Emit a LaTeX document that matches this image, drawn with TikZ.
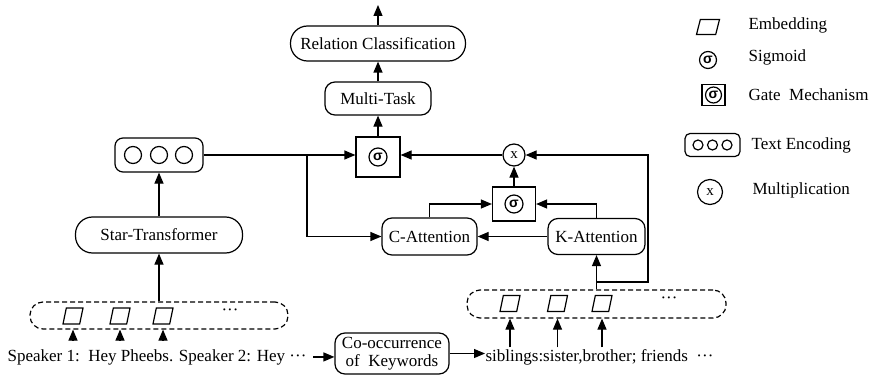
\documentclass[tikz,border=0pt]{standalone}
\usepackage{fontspec}
\setmainfont{Liberation Serif}
\newfontfamily\sigfont{Liberation Sans}
\usetikzlibrary{arrows.meta,shapes.geometric}

\begin{document}
\begin{tikzpicture}[x=1pt,y=-1pt,line width=1.2pt,
  font=\fontsize{17}{19}\selectfont,
  >={Triangle[length=11pt,width=9pt]},
  block/.style={draw,rounded corners=#1,align=center,inner sep=0pt},
  block/.default=10pt,
  gatebox/.style={draw,inner sep=0pt},
  sig/.style={draw,circle,inner sep=0pt,minimum size=18pt,font=\sigfont\bfseries\fontsize{14}{14}\selectfont},
  mulnode/.style={draw,circle,inner sep=0pt,font=\fontsize{15}{15}\selectfont},
  dot/.style={draw,circle,inner sep=0pt,minimum size=17pt},
  emb/.style={draw,trapezium,trapezium left angle=76,trapezium right angle=104,
    trapezium stretches=true,minimum width=20pt,minimum height=16pt,inner sep=1pt},
  seq/.style={draw,dash pattern=on 5pt off 3pt,rounded corners=13pt,inner sep=0pt},
  legend/.style={anchor=west,inner sep=0pt}]
\useasboundingbox (0,0) rectangle (869,385);

\node[block=17pt,minimum width=175pt,minimum height=35pt] (rc) at (378,43.5) {Relation Classification};
\coordinate (out) at (378,5);
\node[block,minimum width=106pt,minimum height=33pt] (mt) at (378,98.5) {Multi-Task};
\node[gatebox,minimum width=44pt,minimum height=40pt] (g1) at (378,157) {};
\node[sig] (s1) at (g1) {σ};
\node[mulnode,minimum size=22pt] (mul) at (514,155) {x};
\node[gatebox,minimum width=43pt,minimum height=34pt] (g2) at (514,204) {};
\node[sig] (s2) at (g2) {σ};
\node[block,minimum width=95pt,minimum height=37pt] (ca) at (429.5,236.5) {C-Attention};
\node[block,minimum width=97pt,minimum height=36pt] (ka) at (596.5,236.5) {K-Attention};

\node[block=8pt,minimum width=88pt,minimum height=34pt] (enc) at (159,155) {};
\foreach \i/\x in {1/133,2/159,3/184}
  \node[dot] (c\i) at (\x,155) {};
\node[block=17pt,minimum width=167pt,minimum height=36pt] (st) at (159,235) {Star-Transformer};

\node[seq,minimum width=258pt,minimum height=27pt] (lseq) at (159,315.5) {};
\foreach \i/\x in {1/73,2/120,3/163}
  \node[emb] (le\i) at (\x,316) {};
\node (ldots) at (230,312) {···};
\node[anchor=base west,inner xsep=0pt,inner ysep=9pt] (speech) at (7,361)
  {Speaker 1:\ \ Hey Pheebs. Speaker 2: Hey ···};
\node[block,minimum width=114pt,minimum height=41pt,font=\fontsize{17}{18}\selectfont] (co) at (392,353.5)
  {Co-occurrence\\of\ \ Keywords};

\node[seq,minimum width=259pt,minimum height=28pt] (rseq) at (596.5,304) {};
\foreach \i/\x in {1/510,2/557.5,3/602}
  \node[emb] (re\i) at (\x,303.5) {};
\node (rdots) at (669,300) {···};
\node[anchor=base west,inner xsep=0pt,inner ysep=1pt] (kw) at (485,361)
  {siblings:sister,brother; friends\ \ ···};

\draw[->] (rc) -- (out);
\draw[->] (mt) -- (rc);
\draw[->] (g1) -- (mt);
\draw[->] (enc.east) -- (enc.east -| g1.west);
\coordinate (split) at (307,155);
\draw[->] (split) |- (ca.west);
\draw[->] (mul.west) -- (mul.west -| g1.east);
\draw[->] (g2) -- (mul);
\draw[->] (ca.north) |- (g2.west);
\draw[->] (ka.north) |- (g2.east);
\draw[->] (ka) -- (ca);
\draw[->] (rseq.north) -- (ka.south);
\coordinate (kbranch) at (596.5,282);
\coordinate (kright) at (648,282);
\draw[->] (kbranch) -- (kright) |- (mul.east);
\draw[->] (st) -- (enc);
\draw[->] (lseq.north) -- (st.south);
\foreach \i in {1,2,3}
  \draw[->] (speech.north -| le\i) -- (lseq.south -| le\i);
\foreach \i in {1,2,3}
  \draw[->] (kw.north -| re\i) -- (rseq.south -| re\i);
\draw[->,shorten <=6pt] (speech.east) -- (speech.east -| co.west);
\draw[->] (co.east) -- (co.east -| kw.west);

\node[emb,minimum width=23pt,minimum height=15pt] (lg-emb) at (708,27) {};
\node[legend] (t-emb) at (748,25) {Embedding};
\node[sig,minimum size=17pt] (lg-sig) at (708,60) {σ};
\node[legend] (t-sig) at (748,57) {Sigmoid};
\node[gatebox,minimum width=23pt,minimum height=21pt] (lg-gate) at (713.5,95) {};
\node[sig,minimum size=16pt] (lg-gs) at (lg-gate) {σ};
\node[legend] (t-gate) at (748,95) {Gate\ \ Mechanism};
\node[block=5pt,minimum width=55pt,minimum height=23pt] (lg-enc) at (712.5,145) {};
\foreach \i/\x in {1/698,2/712.5,3/727}
  \node[dot,minimum size=10pt] (lc\i) at (\x,145) {};
\node[legend] (t-enc) at (751,145) {Text Encoding};
\node[mulnode,minimum size=25pt] (lg-mul) at (710,192) {x};
\node[legend] (t-mul) at (752,190) {Multiplication};
\end{tikzpicture}
\end{document}
